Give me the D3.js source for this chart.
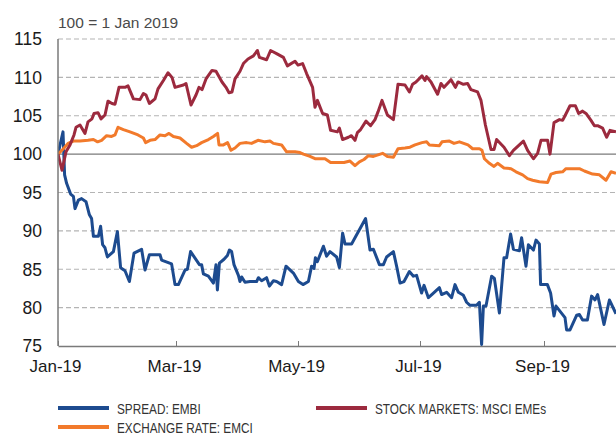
<!DOCTYPE html>
<html>
<head>
<meta charset="utf-8">
<script src="https://cdn.jsdelivr.net/npm/d3@7"></script>
<style>
  body { margin: 0; background: #fff; }
  svg { display: block; font-family: "Liberation Sans", Arial, sans-serif; }
</style>
</head>
<body>
<svg id="chart" width="616" height="437"></svg>
<script>
// day = days since 1 Jan 2019, value = index (100 = 1 Jan 2019)
var spreadEmbi = [
  [0, 100], [2.5, 102.9], [3.3, 97.3], [4.3, 96.2], [6.3, 94.8], [7.7, 94.5], [8.5, 92.9],
  [10.2, 94.0], [11.8, 94.2], [14, 93.8], [15.7, 92.1], [16.8, 91.6], [17.7, 89.3],
  [20.2, 89.3], [21.3, 90.6], [22.3, 88.2], [23.5, 87.8], [24.7, 86.6], [27.7, 87.3],
  [29.7, 89.9], [31.3, 85.2], [33.5, 84.8], [35.7, 83.4], [38, 87.1], [41.8, 87.6],
  [43.5, 84.9], [45.7, 86.9], [51, 86.9], [51.8, 86.2], [56.8, 85.7], [58.5, 83.0],
  [60.2, 83.0], [63.5, 84.9], [64.7, 85.0], [66.3, 87.3], [70.7, 85.6], [71.8, 85.6],
  [72.7, 84.4], [75.2, 84.1], [77.7, 83.2], [79, 85.6], [79.7, 82.3], [80.7, 85.8],
  [83, 86.3], [84.7, 86.8], [85.7, 87.5], [86.8, 87.3], [88, 85.6], [90.2, 84.2],
  [91, 83.4], [91.8, 84.0], [93.5, 83.3], [96, 83.4], [99.3, 83.4], [100.2, 83.9],
  [101.8, 83.5], [104.3, 83.9], [105.7, 82.8], [107.7, 83.5], [109.3, 83.4], [111.8, 83.0],
  [114, 85.4], [117.7, 84.5], [120.2, 83.4], [122.5, 83.0], [125.2, 83.4], [126.8, 85.4],
  [128, 85.1], [128.7, 86.5], [129.7, 86.0], [132.7, 88.0], [134.3, 86.7], [136, 87.3],
  [139.3, 86.6], [140.7, 85.2], [142.3, 89.7], [143.5, 88.3], [146.8, 88.3], [148.5, 89.1],
  [153.8, 91.6], [156, 87.5], [157.7, 87.6], [160.7, 85.6], [162.7, 85.6], [164.3, 86.6],
  [167.7, 87.3], [169.3, 85.4], [171, 83.2], [173, 83.4], [175.7, 84.7], [177.7, 84.1],
  [179.3, 84.2], [181.8, 81.9], [183, 82.9], [185.2, 81.3], [187.3, 81.8], [190.7, 82.6],
  [191.8, 81.7], [194.3, 82.0], [196.8, 81.3], [198.5, 83.0], [200.2, 82.0], [202.7, 81.6],
  [204.3, 80.7], [206, 80.3], [209.3, 80.3], [210.7, 80.7], [211.8, 75.2], [212.7, 80.2],
  [214, 80.2], [216.8, 84.1], [218.2, 83.8], [220.7, 79.3], [223, 86.5], [224.3, 86.5],
  [226.3, 89.6], [227.7, 87.6], [230.7, 87.4], [231.8, 89.1], [234, 85.4], [235.2, 88.2],
  [237.7, 87.5], [239, 88.8], [240.7, 88.3], [241.3, 83.0], [244.7, 83.0], [246.3, 81.9],
  [248, 78.9], [249, 80.2], [253.5, 78.7], [254.3, 77.1], [256, 77.1], [259.3, 79.0],
  [260.7, 79.1], [262.3, 78.4], [264.7, 78.4], [266.8, 81.5], [268.5, 81.0], [269.8, 81.7],
  [273, 77.8], [275.7, 81.0], [279, 79.2]
];

var exchangeEmci = [
  [0, 100], [2.7, 100.7], [5, 101.4], [7.7, 101.7], [11, 101.7], [15, 101.8], [17.7, 101.9],
  [19.8, 101.6], [21.8, 101.8], [24.3, 102.4], [26.8, 102.3], [28.5, 102.5], [30, 103.5],
  [32.7, 103.2], [36, 102.9], [40, 102.5], [42.7, 102.1], [43.8, 101.5], [46, 101.8],
  [48.5, 101.9], [51, 102.5], [53.5, 102.4], [55.5, 102.7], [57.7, 102.3], [61, 102.1],
  [64.3, 101.4], [66.8, 100.9], [69.3, 101.1], [71.8, 101.5], [75.2, 101.9], [77.7, 102.3],
  [79.8, 102.7], [80.5, 101.2], [82.7, 101.2], [84.8, 101.5], [86.5, 100.5], [88.5, 100.8],
  [91, 101.4], [94.3, 101.5], [96.8, 101.4], [100, 101.8], [103.5, 101.6], [106, 101.7],
  [107.7, 101.4], [111.8, 101.2], [114.3, 100.3], [118.5, 100.3], [121, 100.2], [122.7, 100.0],
  [126, 99.7], [128.5, 99.4], [131, 99.4], [133.5, 99.4], [136.3, 98.9], [139.3, 98.9],
  [143, 98.9], [146, 99.1], [148.5, 98.5], [150.7, 99.0], [153, 99.3], [155.2, 99.8],
  [157.7, 99.7], [162.3, 100.1], [164.7, 99.7], [167.7, 99.6], [170, 100.7], [173.5, 100.8],
  [176, 100.9], [178.5, 101.2], [182, 101.5], [184.3, 101.6], [185.7, 101.2], [190.7, 101.1],
  [192, 101.6], [195.7, 101.7], [198, 101.4], [200.7, 101.6], [205, 101.2], [207.3, 100.7],
  [210.7, 100.7], [212, 100.5], [213.2, 99.4], [215.7, 98.8], [218, 98.4], [219.8, 98.8],
  [223, 98.2], [226.5, 98.1], [229, 97.7], [232.3, 97.3], [234.8, 96.8], [237.3, 96.6],
  [240.7, 96.4], [244.8, 96.3], [246.5, 97.4], [249, 97.6], [252.3, 97.7], [254, 98.1],
  [260.7, 98.1], [263.2, 97.8], [267.3, 97.4], [270.7, 97.3], [274, 96.6], [276.5, 97.7],
  [279, 97.5]
];

var stockMsci = [
  [0, 100], [2, 97.9], [4, 100.3], [6, 101.2], [8, 102.5], [9, 103.5], [11, 103.8],
  [13.5, 102.7], [15, 104.2], [17, 104.6], [18, 105.3], [20, 105.4], [21.5, 104.6],
  [23.5, 105.1], [25, 106.9], [27, 106.6], [28.5, 106.5], [30.5, 108.7], [33.5, 108.7],
  [35, 108.9], [37.7, 107.2], [41, 107.1], [42.7, 107.9], [44, 107.7], [45.7, 106.6],
  [48.5, 107.2], [50, 108.5], [52.7, 109.6], [55, 110.6], [57, 110.0], [58.5, 108.7],
  [62.7, 109.0], [64, 109.2], [66.5, 106.4], [69, 107.7], [70.5, 108.7], [72, 108.4],
  [74, 109.8], [77, 110.9], [79, 110.8], [82, 109.4], [84, 108.7], [85.5, 108.0],
  [87, 108.1], [88.5, 109.8], [91, 110.8], [92.7, 111.8], [95, 112.4], [97.7, 112.8],
  [99.7, 113.5], [100.7, 112.6], [104.3, 112.3], [106.3, 113.5], [109.3, 113.1],
  [112.7, 112.6], [114.7, 111.5], [118.5, 112.1], [120, 111.6], [122.3, 111.8],
  [124.3, 110.5], [127.3, 108.7], [128.5, 106.1], [129.7, 107.0], [132.3, 105.3],
  [134.7, 105.1], [136.3, 103.1], [139.7, 102.9], [140.7, 103.4], [142.3, 101.9],
  [145.2, 102.2], [146.7, 102.4], [148.5, 101.8], [149.7, 102.8], [151.3, 103.2],
  [154, 104.3], [156.3, 103.7], [158.5, 104.5], [160, 105.5], [162, 107.0], [164.7, 105.1],
  [167.7, 104.5], [170, 109.1], [173.5, 109.0], [175.7, 108.1], [177.3, 109.1],
  [179, 109.4], [182, 110.2], [183.5, 109.6], [184.3, 110.1], [186.5, 109.4],
  [189.8, 107.8], [191.5, 109.2], [193, 108.7], [196.5, 109.7], [198.7, 108.7],
  [200, 109.4], [202.7, 109.1], [204.8, 109.2], [206.5, 108.4], [209.8, 108.1],
  [211.5, 107.0], [213.7, 103.8], [216.5, 100.6], [218, 100.6], [219.3, 101.9],
  [223, 100.9], [225.7, 99.8], [227.7, 100.5], [232.7, 101.7], [234.8, 100.5],
  [237.7, 99.4], [239.8, 100.1], [241.5, 101.8], [244.8, 101.8], [246, 100.0],
  [248, 104.1], [250.7, 104.5], [252.3, 104.4], [253.7, 105.1], [256, 106.3],
  [258.7, 106.3], [260.3, 105.3], [262.3, 105.6], [264, 105.3], [266.5, 104.4],
  [268.2, 103.7], [269.8, 103.7], [272.3, 103.4], [274.3, 102.2], [276, 103.1], [279, 102.9]
];

var yTicks = [75, 80, 85, 90, 95, 100, 105, 110, 115];

var seriesList = [
  { name: "SPREAD: EMBI", values: spreadEmbi, color: "#1d4b8f" },
  { name: "EXCHANGE RATE: EMCI", values: exchangeEmci, color: "#f27a2b" },
  { name: "STOCK MARKETS: MSCI EMEs", values: stockMsci, color: "#9c2a3e" }
];

var start = new Date(2019, 0, 1);
function toDate(day) { return new Date(start.getTime() + day * 864e5); }

var svg = d3.select("#chart"),
    plotLeft = 58, plotRight = 616, plotTop = 39, plotBottom = 346;

var x = d3.scaleTime()
    .domain([start, toDate(279)])
    .range([plotLeft, plotRight]);

var y = d3.scaleLinear()
    .domain([75, 115])
    .range([plotBottom, plotTop]);

// gridlines
svg.append("g")
    .selectAll("line")
    .data(yTicks.filter(function(d) { return d != 75; }))
    .enter().append("line")
    .attr("x1", plotLeft)
    .attr("x2", plotRight)
    .attr("y1", function(d) { return y(d); })
    .attr("y2", function(d) { return y(d); })
    .attr("stroke", function(d) { return d == 100 ? "#7a7a7a" : "#b4b4b4"; })
    .attr("stroke-width", function(d) { return d == 100 ? 1.3 : 1.2; })
    .attr("stroke-dasharray", function(d) { return d == 100 ? null : "5,3"; });

// y labels
svg.append("g")
    .selectAll("text")
    .data(yTicks)
    .enter().append("text")
    .attr("x", 42)
    .attr("y", function(d) { return y(d); })
    .attr("dy", "0.36em")
    .attr("text-anchor", "end")
    .style("font-size", "17.5px")
    .style("fill", "#1a1a1a")
    .text(function(d) { return d; });

svg.append("text")
    .attr("x", plotLeft)
    .attr("y", 28)
    .style("font-size", "15.5px")
    .style("fill", "#4a4a4a")
    .text("100 = 1 Jan 2019");

// x axis
var xAxis = d3.axisBottom(x)
    .ticks(d3.timeMonth.every(2))
    .tickFormat(d3.timeFormat("%b-%y"))
    .tickSizeInner(-5)
    .tickSizeOuter(0)
    .tickPadding(14);

var gx = svg.append("g")
    .attr("transform", "translate(0," + plotBottom + ")")
    .call(xAxis);
gx.select(".domain").attr("stroke", "#7a7a7a").attr("stroke-width", 1.5);
gx.selectAll(".tick line").attr("stroke", "#7a7a7a");
gx.selectAll(".tick text")
    .style("font-size", "17px")
    .style("font-family", "Liberation Sans, Arial, sans-serif")
    .style("fill", "#1a1a1a")
    .attr("dx", function(d, i) { return i == 0 ? -3 : -2; });

// lines
var line = d3.line()
    .x(function(d) { return x(toDate(d[0])); })
    .y(function(d) { return y(d[1]); });

svg.append("defs").append("clipPath").attr("id", "clip")
    .append("rect").attr("x", plotLeft).attr("y", 0)
    .attr("width", plotRight - plotLeft).attr("height", plotBottom + 1);

svg.append("g")
    .attr("clip-path", "url(#clip)")
    .selectAll("path")
    .data(seriesList)
    .enter().append("path")
    .attr("d", function(d) { return line(d.values); })
    .attr("fill", "none")
    .attr("stroke", function(d) { return d.color; })
    .attr("stroke-width", 3)
    .attr("stroke-linejoin", "round");

// y axis line
svg.append("line")
    .attr("x1", plotLeft).attr("x2", plotLeft)
    .attr("y1", plotTop).attr("y2", plotBottom)
    .attr("stroke", "#7a7a7a")
    .attr("stroke-width", 1.5);

// legend
var legendItems = [
  { s: seriesList[0], lx: 58, ly: 408 },
  { s: seriesList[1], lx: 58, ly: 427 },
  { s: seriesList[2], lx: 316, ly: 408 }
];
var legend = svg.append("g")
    .selectAll("g")
    .data(legendItems)
    .enter().append("g")
    .attr("transform", function(d) { return "translate(" + d.lx + "," + d.ly + ")"; });

legend.append("line")
    .attr("x1", 0).attr("x2", 51)
    .attr("stroke", function(d) { return d.s.color; })
    .attr("stroke-width", 4);

// condensed look: squeeze regular font horizontally
legend.append("text")
    .attr("transform", "translate(59,0) scale(0.76,1)")
    .attr("dy", "0.36em")
    .style("font-size", "15.5px")
    .style("fill", "#333")
    .text(function(d) { return d.s.name; });
</script>
</body>
</html>
